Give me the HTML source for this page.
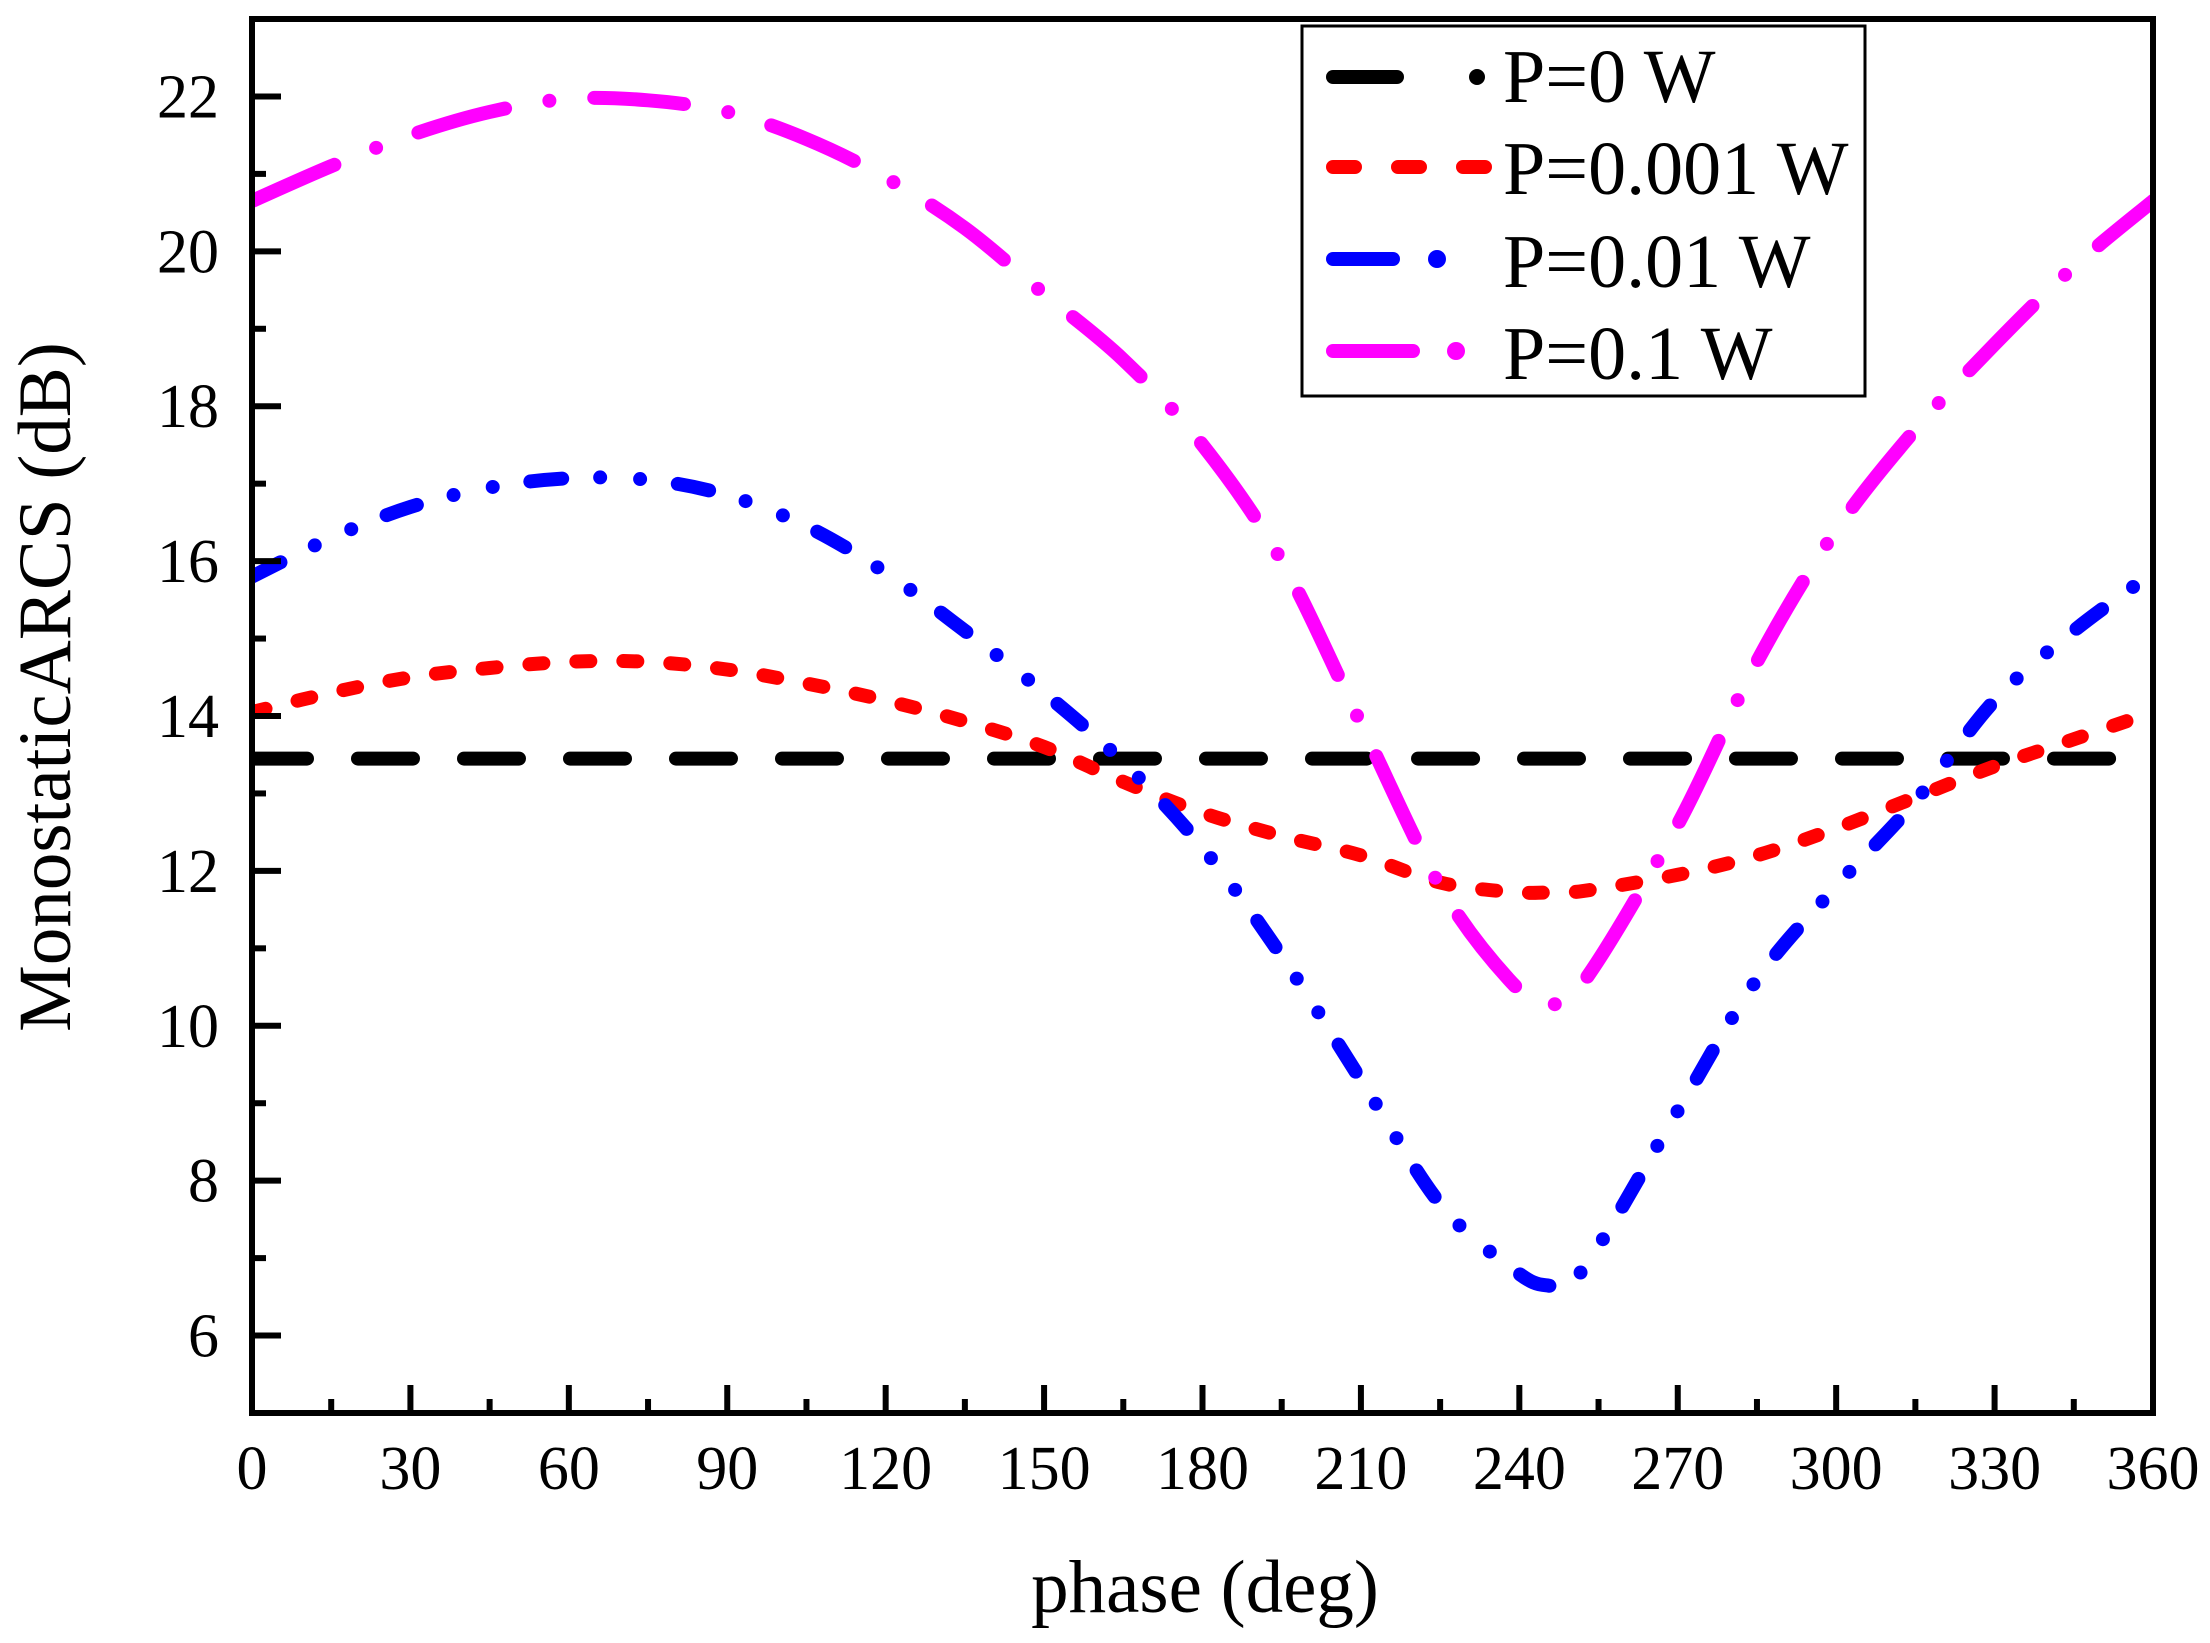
<!DOCTYPE html>
<html><head><meta charset="utf-8"><style>
html,body{margin:0;padding:0;background:#fff}
svg{display:block;font-family:"Liberation Serif",serif}
</style></head><body>
<svg id="chart" width="2210" height="1643" viewBox="0 0 2210 1643" xmlns="http://www.w3.org/2000/svg">
<rect width="2210" height="1643" fill="#fff"/>
<g id="series"></g>
<g id="axes"></g>
<text x="1205" y="1612" font-size="75" text-anchor="middle">phase (deg)</text>
<text transform="translate(70,687) rotate(-90)" font-size="75" text-anchor="middle">MonostaticARCS (dB)</text>
<g>
<rect x="1302" y="26" width="563" height="370" fill="#fff" stroke="#000" stroke-width="3"/>
<line x1="1333" y1="77" x2="1397" y2="77" stroke="#000" stroke-width="14" stroke-linecap="round"/>
<circle cx="1477" cy="77" r="8"/>
<text x="1503" y="102" font-size="76">P=0 W</text>
<line x1="1333" y1="167" x2="1490" y2="167" stroke="#f00" stroke-width="14" stroke-linecap="round" stroke-dasharray="22 43"/>
<text x="1503" y="194" font-size="76">P=0.001 W</text>
<line x1="1333" y1="259" x2="1393" y2="259" stroke="#00f" stroke-width="14" stroke-linecap="round"/>
<circle cx="1437" cy="259" r="9" fill="#00f"/>
<text x="1503" y="287" font-size="76">P=0.01 W</text>
<line x1="1333" y1="351" x2="1413" y2="351" stroke="#f0f" stroke-width="14" stroke-linecap="round"/>
<circle cx="1456" cy="351" r="9" fill="#f0f"/>
<text x="1503" y="379" font-size="76">P=0.1 W</text>
</g>
</svg>
<script>
const phases=[0,15,30,45,60,75,90,105,120,135,150,165,180,195,210,225,238,245,252,270,285,300,315,330,345,360];
const p0=[13.45,13.45,13.45,13.45,13.45,13.45,13.45,13.45,13.45,13.45,13.45,13.45,13.45,13.45,13.45,13.45,13.45,13.45,13.45,13.45,13.45,13.45,13.45,13.45,13.45,13.45];
const p0001=[14.05,14.3,14.5,14.62,14.7,14.7,14.6,14.42,14.2,13.93,13.6,13.15,12.75,12.45,12.2,11.85,11.73,11.72,11.74,11.95,12.2,12.55,12.95,13.35,13.7,14.05];
const p001=[15.8,16.3,16.7,16.95,17.07,17.05,16.85,16.45,15.85,15.1,14.3,13.4,12.3,10.9,9.3,7.7,6.9,6.65,6.85,8.9,10.6,11.8,12.9,14.2,15.1,15.85];
const p01=[20.65,21.1,21.5,21.8,21.97,21.95,21.8,21.45,20.95,20.3,19.45,18.6,17.5,16.0,13.9,11.8,10.6,10.3,10.55,12.6,14.7,16.4,17.7,18.8,19.8,20.65];
const xTicks=[0,30,60,90,120,150,180,210,240,270,300,330,360];
const yTicks=[6,8,10,12,14,16,18,20,22];
const X0=252,X1=2153,Y0=1413,Y1=19,XMIN=0,XMAX=360,YMIN=5,YMAX=23;
const sx=v=>X0+(v-XMIN)/(XMAX-XMIN)*(X1-X0);
const sy=v=>Y0-(v-YMIN)/(YMAX-YMIN)*(Y0-Y1);
const NS="http://www.w3.org/2000/svg";
const mk=(t,a,p)=>{const e=document.createElementNS(NS,t);for(const k in a)e.setAttribute(k,a[k]);p.appendChild(e);return e;};
const sg=document.getElementById('series'),ag=document.getElementById('axes');
function smooth(ys){
 let pts=phases.map((p,i)=>[sx(p),sy(ys[i])]);
 let d='M'+pts[0][0]+','+pts[0][1];
 for(let i=0;i<pts.length-1;i++){
  const p0=pts[Math.max(0,i-1)],p1=pts[i],p2=pts[i+1],p3=pts[Math.min(pts.length-1,i+2)];
  const c1=[p1[0]+(p2[0]-p0[0])/6,p1[1]+(p2[1]-p0[1])/6],c2=[p2[0]-(p3[0]-p1[0])/6,p2[1]-(p3[1]-p1[1])/6];
  d+=' C'+c1+' '+c2+' '+p2;
 }
 return d;
}
const defs=[[p0,'#000','55 51','series-p0'],[p0001,'#f00','14 33','series-p0001'],[p001,'#00f','32 38 0 40 0 38','series-p001'],[p01,'#f0f','90 45 0 45','series-p01']];
mk('clipPath',{id:'clip'},sg).appendChild(document.createElementNS(NS,'rect'));
const cr=sg.querySelector('clipPath rect');cr.setAttribute('x',X0);cr.setAttribute('y',Y1);cr.setAttribute('width',X1-X0);cr.setAttribute('height',Y0-Y1);
defs.forEach(([ys,c,da,n])=>{
 const e=mk('path',{d:smooth(ys),fill:'none',stroke:c,'stroke-width':14,'stroke-linecap':'round','stroke-dasharray':da,'clip-path':'url(#clip)'},sg);
 
 
});
const frame=mk('rect',{x:X0,y:Y1,width:X1-X0,height:Y0-Y1,fill:'none',stroke:'#000','stroke-width':6},ag);


for(let v=0;v<=360;v+=15){
 const major=v%30===0,x=sx(v);
 mk('line',{x1:x,y1:Y0,x2:x,y2:Y0-(major?28:14),stroke:'#000','stroke-width':6},ag);
}
xTicks.forEach(v=>{
 const t=mk('text',{x:sx(v),y:1489,'font-size':62,'text-anchor':'middle'},ag);
 t.textContent=v;
 
 
});
for(let v=6;v<=22;v+=1){
 const major=v%2===0,y=sy(v);
 mk('line',{x1:X0,y1:y,x2:X0+(major?29:14),y2:y,stroke:'#000','stroke-width':6},ag);
}
yTicks.forEach(v=>{
 const t=mk('text',{x:219,y:sy(v)+21,'font-size':62,'text-anchor':'end'},ag);
 t.textContent=v;
 
 
});
</script>
</body></html>
